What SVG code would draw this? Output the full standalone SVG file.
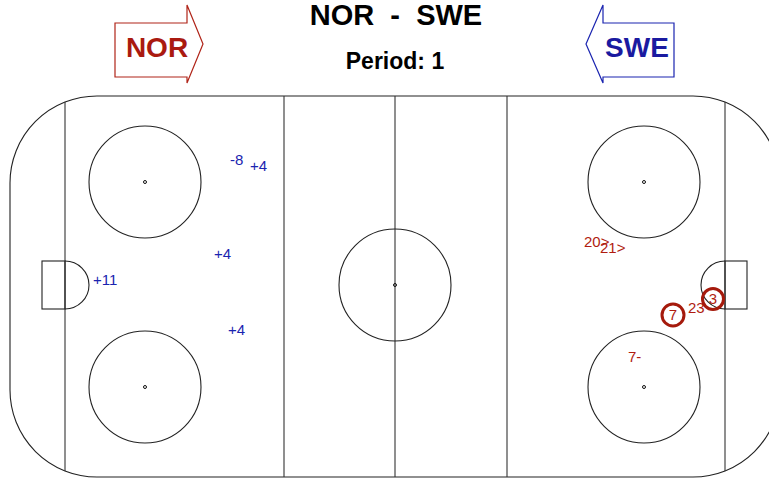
<svg xmlns="http://www.w3.org/2000/svg" width="769" height="481" viewBox="0 0 769 481">
<style>
.ln{fill:none;stroke:#222;stroke-width:1.1}
.thin{fill:none;stroke:#333;stroke-width:1.1}
.dot{fill:none;stroke:#111;stroke-width:1}
.b{font-family:"Liberation Sans",Arial,sans-serif;font-size:15px;fill:#1a24b0}
.r{font-family:"Liberation Sans",Arial,sans-serif;font-size:15px;fill:#b01c10}
.ring{fill:none;stroke:#a51a0c;stroke-width:3}
.title{font-family:"Liberation Sans",Arial,sans-serif;font-weight:bold;fill:#000;text-anchor:middle;white-space:pre}
</style>
<rect width="769" height="481" fill="#fff"/>
<g id="header">
<text class="title" x="396" y="25" font-size="29" xml:space="preserve">NOR  -  SWE</text>
<text class="title" x="395" y="69" font-size="23">Period: 1</text>
</g>
<g id="nor-arrow">
<polygon points="115,23 187,23 187,5 203,44 187,83 187,77 115,77" fill="#fff" stroke="#b02418" stroke-width="1.2"/>
<text x="157" y="57" font-family="Liberation Sans,Arial,sans-serif" font-weight="bold" font-size="28" fill="#aa1a10" text-anchor="middle">NOR</text>
</g>
<g id="swe-arrow">
<polygon points="674,23 603,23 603,5 586,44 603,83 603,77 674,77" fill="#fff" stroke="#1a24b0" stroke-width="1.2"/>
<text x="637" y="57" font-family="Liberation Sans,Arial,sans-serif" font-weight="bold" font-size="28" fill="#1a1aa0" text-anchor="middle">SWE</text>
</g>
<g id="rink">
<path class="ln" d="M97,96 L693,96 A87,87 0 0 1 780,183 L780,390 A87,87 0 0 1 693,477 L97,477 A87,87 0 0 1 10,390 L10,183 A87,87 0 0 1 97,96 Z"/>
<line class="thin" x1="65" y1="102" x2="65" y2="471"/>
<line class="thin" x1="725" y1="102" x2="725" y2="471"/>
<line class="thin" x1="284" y1="96" x2="284" y2="477"/>
<line class="thin" x1="507" y1="96" x2="507" y2="477"/>
<line class="thin" x1="395" y1="96" x2="395" y2="477"/>
<circle class="ln" cx="395" cy="285" r="56"/>
<circle class="dot" cx="395" cy="285" r="1.5"/>
<circle class="ln" cx="145" cy="182" r="56"/>
<circle class="dot" cx="145" cy="182" r="1.5"/>
<circle class="ln" cx="145" cy="387" r="56"/>
<circle class="dot" cx="145" cy="387" r="1.5"/>
<circle class="ln" cx="644" cy="182" r="56"/>
<circle class="dot" cx="644" cy="182" r="1.5"/>
<circle class="ln" cx="644" cy="387" r="56"/>
<circle class="dot" cx="644" cy="387" r="1.5"/>
<path class="ln" d="M65,261 A24,24 0 0 1 65,309"/>
<rect class="ln" x="42" y="261" width="23" height="48"/>
<path class="ln" d="M725,261 A24,24 0 0 0 725,309"/>
<rect class="ln" x="725" y="261" width="22" height="48"/>
</g>
<g id="labels-nor">
<text class="b" x="230" y="165">-8</text>
<text class="b" x="250" y="171">+4</text>
<text class="b" x="214" y="259">+4</text>
<text class="b" x="93" y="285">+11</text>
<text class="b" x="228" y="335">+4</text>
</g>
<g id="labels-swe">
<text class="r" x="584" y="247">20&gt;</text>
<text class="r" x="600" y="253">21&gt;</text>
<text class="r" x="688" y="313">23</text>
<circle class="ring" cx="713" cy="299" r="10.5"/>
<text class="r" x="713" y="304" text-anchor="middle">3</text>
<circle class="ring" cx="673" cy="315" r="11"/>
<text class="r" x="673" y="320" text-anchor="middle">7</text>
<text class="r" x="628" y="362">7-</text>
</g>
</svg>
